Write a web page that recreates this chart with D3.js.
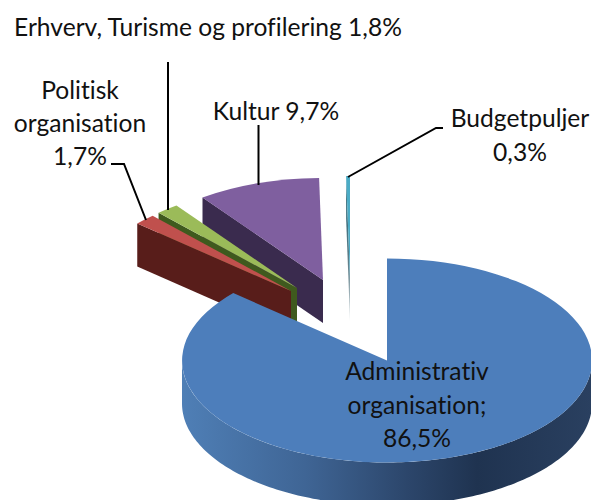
<!DOCTYPE html>
<html>
<head>
<meta charset="utf-8">
<script src="https://cdn.jsdelivr.net/npm/d3@7"></script>
<style>
  html, body { margin: 0; background: #fff; }
  svg { display: block; }
  text { font-family: Lato, "Open Sans", sans-serif; font-size: 24.6px; fill: #111; text-anchor: middle; font-variant-ligatures: none; }
</style>
</head>
<body>
<div id="chart"></div>
<script>
// 3D exploded pie: budget shares. Order runs clockwise from 12 o'clock.
const categories = ["Administrativ organisation", "Politisk organisation", "Erhverv, Turisme og profilering", "Kultur", "Budgetpuljer"];
const shares = [86.5, 1.7, 1.8, 9.7, 0.3];

const width = 591, height = 500;
const rx = 205, ry = 102, depth = 43;

// slice styling and exploded centre, by category index
const topColor  = ["#4d7ebb", "#c0504d", "#9bbb59", "#7f5f9f", "#4bacc6"];
const wallColor = ["url(#rimBlue)", "#581d1a", "#3f5a1e", "#3a2b4e", "url(#wallCyan)"];
const centers = [[387, 360.5], [291, 291], [297, 288], [323, 280], [350, 278]];
const drawOrder = [3, 4, 2, 1, 0];   // back to front

const labels = [
  { lines: ["Erhverv, Turisme og profilering 1,8%"], x: 208, y: 36 },
  { lines: ["Politisk", "organisation", "1,7%"], x: 80, y: 99, dy: 33 },
  { lines: ["Kultur 9,7%"], x: 276, y: 120 },
  { lines: ["Budgetpuljer", "0,3%"], x: 520, y: 127, dy: 34 },
  { lines: ["Administrativ", "organisation;", "86,5%"], x: 417, y: 380, dy: 33.5 },
];
const leaders = [
  [[111, 164], [124, 164], [146, 220]],
  [[168, 62], [168, 210]],
  [[258.5, 125], [258.5, 185]],
  [[443, 128], [436, 128], [348, 177]],
];

const svg = d3.select("#chart").append("svg")
  .attr("width", width).attr("height", height).attr("viewBox", `0 0 ${width} ${height}`);

const defs = svg.append("defs");
const rim = defs.append("linearGradient").attr("id", "rimBlue")
  .attr("gradientUnits", "userSpaceOnUse").attr("x1", 182).attr("x2", 592).attr("y1", 0).attr("y2", 0);
[[0, "#4f7fb6"], [0.3, "#3f6595"], [0.55, "#2c466b"], [0.72, "#1f3350"], [1, "#2a4060"]]
  .forEach(([o, c]) => rim.append("stop").attr("offset", o).attr("stop-color", c));
const cy = defs.append("linearGradient").attr("id", "wallCyan").attr("x1", 0).attr("x2", 0).attr("y1", 0).attr("y2", 1);
[[0, "#1f5f70"], [0.6, "#5f7f8a"], [1, "#d5dde0"]]
  .forEach(([o, c]) => cy.append("stop").attr("offset", o).attr("stop-color", c));

const pie = d3.pie().sort(null).startAngle(0).endAngle(2 * Math.PI);
const slices = pie(shares);
const arc = d3.arc().innerRadius(0).outerRadius(1);
const line = d3.line();

// point on the tilted rim of a slice
const rimPoint = (c, a, drop = 0) => [c[0] + rx * Math.sin(a), c[1] - ry * Math.cos(a) + drop];

const gPie = svg.append("g");

drawOrder.forEach(i => {
  const s = slices[i], c = centers[i];
  const g = gPie.append("g");

  if (i === 0) {
    // outer rim, only the front half of the big slice shows
    const angles = d3.range(Math.PI / 2, 3 * Math.PI / 2 + 0.001, 0.02);
    const upper = angles.map(a => rimPoint(c, a));
    const lower = angles.map(a => rimPoint(c, a, depth)).reverse();
    g.append("path").attr("d", line(upper.concat(lower)) + "Z").attr("fill", wallColor[i]);
  } else {
    // cut face at the slice's start angle
    const p = rimPoint(c, s.startAngle);
    g.append("path")
      .attr("d", line([c, p, [p[0], p[1] + depth], [c[0], c[1] + depth]]) + "Z")
      .attr("fill", wallColor[i]);
  }

  g.append("path")
    .attr("transform", `translate(${c[0]},${c[1]}) scale(${rx},${ry})`)
    .attr("d", arc(s))
    .attr("fill", topColor[i]);
});

svg.append("g").selectAll("path").data(leaders).join("path")
  .attr("d", d => line(d))
  .attr("fill", "none").attr("stroke", "#000").attr("stroke-width", 2);

const gLabels = svg.append("g");
labels.forEach(l => {
  l.lines.forEach((t, k) => {
    gLabels.append("text").attr("x", l.x).attr("y", l.y + k * (l.dy || 0)).text(t);
  });
});
</script>
</body>
</html>
